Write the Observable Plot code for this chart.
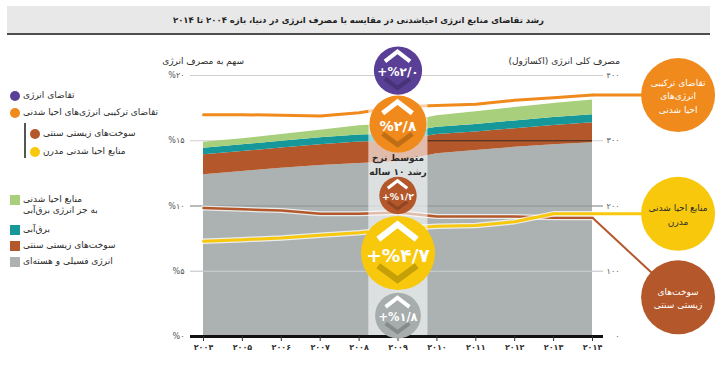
<!DOCTYPE html>
<html lang="fa">
<head>
<meta charset="utf-8">
<script src="https://cdn.jsdelivr.net/npm/d3@7"></script>
<script src="https://cdn.jsdelivr.net/npm/@observablehq/plot@0.6"></script>
<style>
  html,body{margin:0;padding:0;background:#fff;}
  #wrap{position:relative;width:724px;height:387px;overflow:hidden;font-family:"DejaVu Sans",sans-serif;color:#2b2b2b;}
  #title{position:absolute;left:7px;top:6px;width:703px;height:27px;background:#e8e8e8;border-bottom:2px solid #4d4d4d;text-align:center;font-size:8.5px;font-weight:bold;line-height:28px;color:#222;}
  #chart{position:absolute;left:0;top:36px;}
  .abs{position:absolute;white-space:nowrap;font-size:8.5px;line-height:11px;}
</style>
</head>
<body>
<div id="wrap">
  <div id="title" dir="rtl"></div>
  <div id="chart"></div>
</div>
<script>
const fa = v => String(v).replace(/\d/g, d => "۰۱۲۳۴۵۶۷۸۹"[+d]);

// ---------- texts ----------
const titleText = "رشد تقاضای منابع انرژی احیاشدنی در مقایسه با مصرف انرژی در دنیا، بازه ۲۰۰۴ تا ۲۰۱۴";
const leftAxisTitle = "سهم به مصرف انرژی";
const rightAxisTitle = "مصرف کلی انرژی (اکساژول)";

// ---------- data ----------
const years = [2004, 2005, 2006, 2007, 2008, 2009, 2010, 2011, 2012, 2013, 2014];
// stacked areas (EJ, right axis)
const fossilNuclear = [248, 253, 258, 262, 265, 268, 280, 285, 290, 294, 297];
const tradBiomass   = [30.5, 30.5, 31, 32, 33, 31.5, 29.5, 28.5, 28.5, 29.5, 30.5];
const hydropower    = [10, 10.2, 10.4, 10.6, 10.8, 11, 11.2, 11.4, 11.8, 12, 12.3];
const otherRenew    = [9.2, 9.5, 10, 11.5, 14, 15.5, 17.5, 19.5, 20.5, 21.5, 22.5];
// shares (% , left axis)
const renewShare  = [17.0, 17.0, 16.95, 16.9, 17.15, 17.6, 17.7, 17.8, 18.1, 18.3, 18.5];
const tradShare   = [9.85, 9.75, 9.65, 9.4, 9.4, 9.5, 9.2, 9.2, 9.2, 9.1, 9.1];
const modernShare = [7.3, 7.42, 7.55, 7.75, 7.95, 8.25, 8.45, 8.5, 8.8, 9.4, 9.4];

const areaKeys   = ["fossil", "trad", "hydro", "other"];
const areaLabels = ["انرژی فسیلی و هسته‌ای", "سوخت‌های زیستی سنتی", "برق‌آبی", "منابع احیا شدنی<br>به جز انرژی برق‌آبی"];

const growthLabels = ["تقاضای انرژی", "تقاضای ترکیبی انرژی‌های احیا شدنی", "سوخت‌های زیستی سنتی", "منابع احیا شدنی مدرن", "انرژی فسیلی و هسته‌ای"];
const growthRates  = [2.0, 2.8, 1.2, 4.7, 1.8];
const growthPlus   = [true, false, true, true, true];
const growthCaption = "متوسط نرخ\nرشد ۱۰ ساله";

const calloutLabels = ["تقاضای ترکیبی\nانرژی‌های\nاحیا شدنی", "منابع احیا شدنی\nمدرن", "سوخت‌های\nزیستی سنتی"];
const yTicks = [0, 5, 10, 15, 20];

// ---------- styles & layout ----------
const C = {purple:"#5a3f96", orange:"#f08a1c", brown:"#b4572b", yellow:"#f8c80c", green:"#a8cf7b", teal:"#16989a", gray:"#abb2b1", grayDot:"#a7adad", text:"#2b2b2b"};
const areaColors = [C.gray, C.brown, C.teal, C.green];
const growthColors = [C.purple, C.orange, C.brown, C.yellow, C.grayDot];
const EJ_PER_PCT = 20;           // 400 EJ <-> 20 %
const W = 724, H = 351;
const MID_YEAR = 2009;
const BAND = [2008.25, 2009.77];
const BAND_TOP = 18.8;
const growthY = [20.38, 16.28, 10.8, 6.4, 1.6];
const captionY = 13.26;
const CALLOUT_X = 2016.2;
const last = years.length - 1;
const calloutFrom = [renewShare[last], modernShare[last], tradShare[last]];
const calloutY = [renewShare[last], modernShare[last], 3.0];
const calloutFill = [C.orange, C.yellow, C.brown];
const calloutInk = ["#fff", "#2b2b2b", "#fff"];
const R_MAX = 37;
const rPx = d3.scaleSqrt().domain([0, 4.7]).range([0, R_MAX]);

document.getElementById("title").textContent = titleText;

// ---------- marks ----------
const stackRows = years.flatMap((yr, i) => [
  {year: yr, key: "fossil", v: fossilNuclear[i]},
  {year: yr, key: "trad", v: tradBiomass[i]},
  {year: yr, key: "hydro", v: hydropower[i]},
  {year: yr, key: "other", v: otherRenew[i]}
]);

const marks = [
  Plot.ruleY(yTicks.slice(1), {stroke: "#cfcfcf"}),
  Plot.areaY(stackRows, {x: "year", y: d => d.v / EJ_PER_PCT, z: "key", fill: "key", order: areaKeys}),
  Plot.ruleY([10], {stroke: "#8c9292"}),
  Plot.ruleY([5], {stroke: "#cdd2d2"}),
  Plot.ruleY([15], {x1: BAND[1], x2: years[last], stroke: "#3b2b22"})
];

const lineSpec = [
  [renewShare, C.orange, 3, 0],
  [tradShare, C.brown, 2.5, 5],
  [modernShare, C.yellow, 3, 5.5]
];
for (const [arr, col, w, casing] of lineSpec) {
  if (casing) marks.push(Plot.line(years, {x: d => d, y: (d, i) => arr[i], stroke: "#fff", strokeOpacity: 0.75, strokeWidth: casing}));
  marks.push(Plot.line(years, {x: d => d, y: (d, i) => arr[i], stroke: col, strokeWidth: w}));
}

marks.push(
  Plot.rect([0], {x1: BAND[0], x2: BAND[1], y1: 0, y2: BAND_TOP, fill: "#fff", fillOpacity: 0.6}),
  Plot.ruleY([0], {stroke: "#111", strokeWidth: 3}),
  Plot.axisX({ticks: years, tickFormat: d => fa(d), tickSize: 5, tickPadding: 3, fontSize: 8, fontWeight: "bold", color: "#333", label: null}),
  Plot.axisY({anchor: "left", ticks: yTicks, tickFormat: d => "%" + fa(d), tickSize: 0, tickPadding: 6, fontSize: 8, color: "#555", label: null}),
  Plot.axisY({anchor: "right", ticks: yTicks, tickFormat: d => fa(d * EJ_PER_PCT), tickSize: 0, tickPadding: 16, textAnchor: "end", fontSize: 8, color: "#555", label: null})
);

// growth-rate circles
growthRates.forEach((v, i) => {
  marks.push(Plot.dot([v], {x: () => MID_YEAR, y: () => growthY[i], r: d => d, fill: growthColors[i]}));
});
growthRates.forEach((v, i) => {
  marks.push(Plot.text([v], {
    x: () => MID_YEAR, y: () => growthY[i],
    text: d => (growthPlus[i] ? "+" : "") + "%" + fa(d.toFixed(1)).replace(".", "/"),
    fill: "#fff", fontSize: rPx(v) * 0.5, fontWeight: "bold", dy: rPx(v) * 0.08,
    ariaLabel: "growth-label"
  }));
});
marks.push(Plot.text([growthCaption], {x: () => MID_YEAR, y: () => captionY, text: d => d, fontSize: 9, fontWeight: "bold", fill: C.text, lineHeight: 1.55}));

// callouts on the right
calloutLabels.forEach((lab, i) => {
  marks.push(Plot.link([0], {x1: () => years[last], y1: () => calloutFrom[i], x2: () => CALLOUT_X, y2: () => calloutY[i], stroke: calloutFill[i], strokeWidth: i === 2 ? 2 : 3}));
});
calloutLabels.forEach((lab, i) => {
  marks.push(Plot.dot([0], {x: () => CALLOUT_X, y: () => calloutY[i], r: R_MAX, fill: calloutFill[i]}));
  marks.push(Plot.text([lab], {x: () => CALLOUT_X, y: () => calloutY[i], text: d => d, fill: calloutInk[i], fontSize: 9, lineHeight: 1.5}));
});

const plot = Plot.plot({
  width: W, height: H,
  marginLeft: 190, marginRight: 121, marginTop: 39, marginBottom: 51,
  x: {domain: [years[0], years[last]], range: [203, 592]},
  y: {domain: [0, 20]},
  r: {type: "sqrt", domain: [0, 4.7], range: [0, R_MAX]},
  color: {domain: areaKeys, range: areaColors},
  style: {fontFamily: '"DejaVu Sans", sans-serif', background: "transparent", overflow: "visible"},
  marks
});
document.getElementById("chart").appendChild(plot);

// chevrons inside growth circles (positioned through the plot's scales)
const sx = plot.scale("x"), sy = plot.scale("y"), sr = plot.scale("r");
const chev = d3.select(plot).append("g").attr("fill", "none").attr("stroke-linejoin", "miter");
growthRates.forEach((v, i) => {
  const cx = sx.apply(MID_YEAR), cy = sy.apply(growthY[i]), r = sr.apply(v);
  chev.append("path")
    .attr("d", `M${cx - 0.52 * r},${cy - 0.36 * r}L${cx},${cy - 0.76 * r}L${cx + 0.52 * r},${cy - 0.36 * r}`)
    .attr("stroke", "#fff").attr("stroke-width", 0.17 * r);
  chev.append("path")
    .attr("d", `M${cx - 0.52 * r},${cy + 0.36 * r}L${cx},${cy + 0.74 * r}L${cx + 0.52 * r},${cy + 0.36 * r}`)
    .attr("stroke", "#000").attr("stroke-opacity", 0.2).attr("stroke-width", 0.17 * r);
});
d3.select(plot).selectAll('g[aria-label="growth-label"]').each(function () { this.parentNode.appendChild(this); });

// ---------- HTML legends & axis titles ----------
const wrap = document.getElementById("wrap");
function addDiv(html, css) {
  const d = document.createElement("div");
  d.className = "abs"; d.dir = "rtl"; d.innerHTML = html;
  Object.assign(d.style, css);
  wrap.appendChild(d);
  return d;
}
function addShape(css) {
  const d = document.createElement("div");
  d.style.position = "absolute";
  Object.assign(d.style, css);
  wrap.appendChild(d);
}
addDiv(leftAxisTitle, {right: (724 - 244) + "px", top: "56px", fontSize: "9px"});
addDiv(rightAxisTitle, {right: (724 - 620) + "px", top: "56px", fontSize: "9px"});

// line-series legend
const lineLegendColors = [C.purple, C.orange, C.brown, C.yellow];
const lineLegendY = [96, 113, 134, 152];
const lineLegendIndent = [0, 0, 1, 1];
lineLegendColors.forEach((col, i) => {
  const dx = lineLegendIndent[i] ? 20 : 0;
  addShape({left: (10 + dx) + "px", top: (lineLegendY[i] - 5) + "px", width: "10px", height: "10px", borderRadius: "50%", background: col});
  addDiv(growthLabels[i], {left: (23 + dx) + "px", top: (lineLegendY[i] - 6) + "px", fontSize: "9px"});
});
addShape({left: "24px", top: "123px", width: "2px", height: "35px", background: "#555"});

// area legend (top to bottom: other, hydro, trad, fossil)
const areaLegendTop = [195, 225, 241, 257];
[3, 2, 1, 0].forEach((k, j) => {
  addShape({left: "10px", top: areaLegendTop[j] + "px", width: "10px", height: "10px", background: areaColors[k]});
  addDiv(areaLabels[k], {left: "23px", top: (areaLegendTop[j] - 1) + "px", fontSize: "9px", textAlign: "left"});
});
</script>
</body>
</html>
